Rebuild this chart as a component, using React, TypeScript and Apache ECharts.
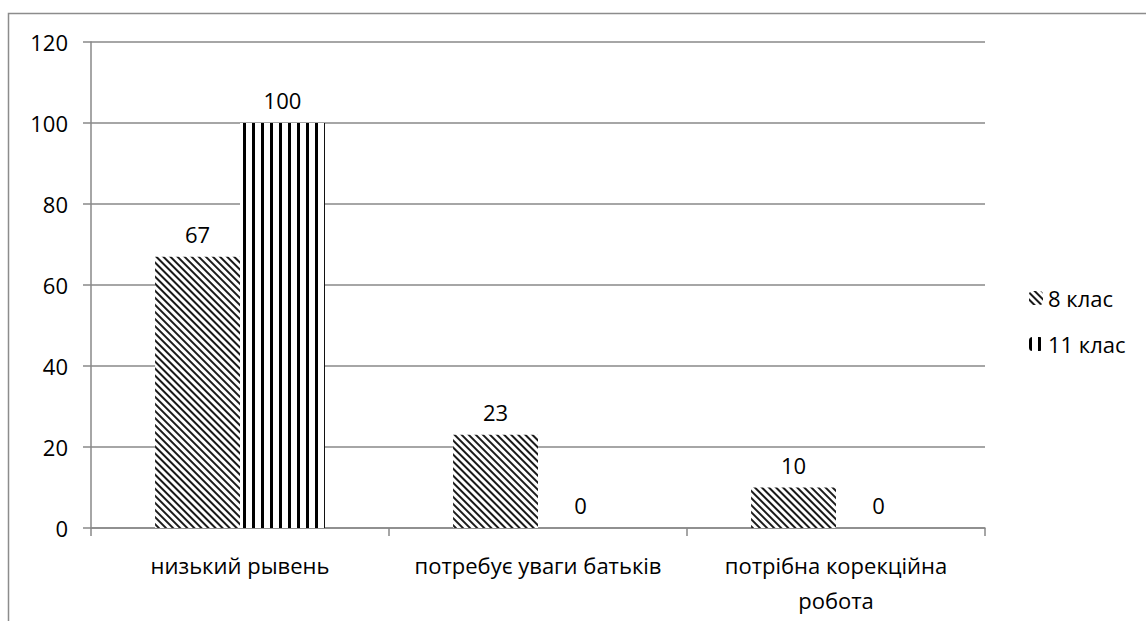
import React, { useEffect, useRef } from "react";
import * as echarts from "echarts";

const categories = ["низький рывень", "потребує уваги батьків", "потрібна корекційна\nробота"];
const seriesNames = ["8 клас", "11 клас"];
const grade8 = [67, 23, 10];
const grade11 = [100, 0, 0];
const yTicks = { min: 0, max: 120, interval: 20 };

const FONT = "'Open Sans', 'Noto Sans', sans-serif";
const FS = 22;

export default function App() {
  const ref = useRef<HTMLDivElement>(null);
  useEffect(() => {
    if (!ref.current) return;
    const chart = echarts.init(ref.current, null, { renderer: "svg" });
    const labelStyle = {
      show: true,
      position: "top" as const,
      distance: 12,
      color: "#000",
      fontSize: FS,
      fontFamily: FONT,
    };
    chart.setOption({
      animation: false,
      backgroundColor: "#fff",
      aria: { enabled: true, decal: { show: true } },
      textStyle: { fontFamily: FONT },
      graphic: [
        {
          type: "rect",
          shape: { x: 8.5, y: 13.5, width: 1300, height: 800 },
          style: { fill: "none", stroke: "#8c8c8c", lineWidth: 1.5 },
          silent: true,
          z: -1,
        },
      ],
      legend: {
        orient: "vertical",
        left: 1024,
        top: 282,
        itemGap: 24,
        itemWidth: 14,
        itemHeight: 14,
        textStyle: { color: "#000", fontSize: FS, fontFamily: FONT },
        data: seriesNames,
      },
      grid: { left: 91, top: 42, right: 161, bottom: 93, containLabel: false },
      xAxis: {
        type: "category",
        data: categories,
        axisLine: { lineStyle: { color: "#898989", width: 1.5 } },
        axisTick: { show: true, length: 8, alignWithLabel: false, lineStyle: { color: "#898989", width: 1.5 } },
        axisLabel: { color: "#000", fontSize: FS, fontFamily: FONT, margin: 19, lineHeight: 35, interval: 0 },
      },
      yAxis: {
        type: "value",
        min: yTicks.min,
        max: yTicks.max,
        interval: yTicks.interval,
        axisLine: { show: true, lineStyle: { color: "#898989", width: 1.5 } },
        axisTick: { show: true, length: 8, lineStyle: { color: "#898989", width: 1.5 } },
        splitLine: { lineStyle: { color: "#898989", width: 1.5 } },
        axisLabel: { color: "#000", fontSize: FS, fontFamily: FONT, margin: 23 },
      },
      series: [
        {
          name: seriesNames[0],
          type: "bar",
          data: grade8,
          barGap: "0%",
          barCategoryGap: "43%",
          itemStyle: {
            color: "#fff",
            decal: {
              symbol: "rect",
              color: "#1a1a1a",
              backgroundColor: "#fff",
              dashArrayX: [1, 0],
              dashArrayY: [1.8, 2.6],
              rotation: Math.PI / 4,
              symbolSize: 1,
            },
          },
          label: labelStyle,
        },
        {
          name: seriesNames[1],
          type: "bar",
          data: grade11,
          itemStyle: {
            color: "#fff",
            decal: {
              symbol: "rect",
              color: "#000",
              backgroundColor: "#fff",
              dashArrayX: [2.3, 6],
              dashArrayY: [1, 0],
              rotation: 0,
              symbolSize: 1,
            },
          },
          label: labelStyle,
        },
      ],
    });
    return () => chart.dispose();
  }, []);
  return (
    <div
      ref={ref}
      style={{ position: "absolute", left: 0, top: 0, width: 1146, height: 621 }}
    />
  );
}
